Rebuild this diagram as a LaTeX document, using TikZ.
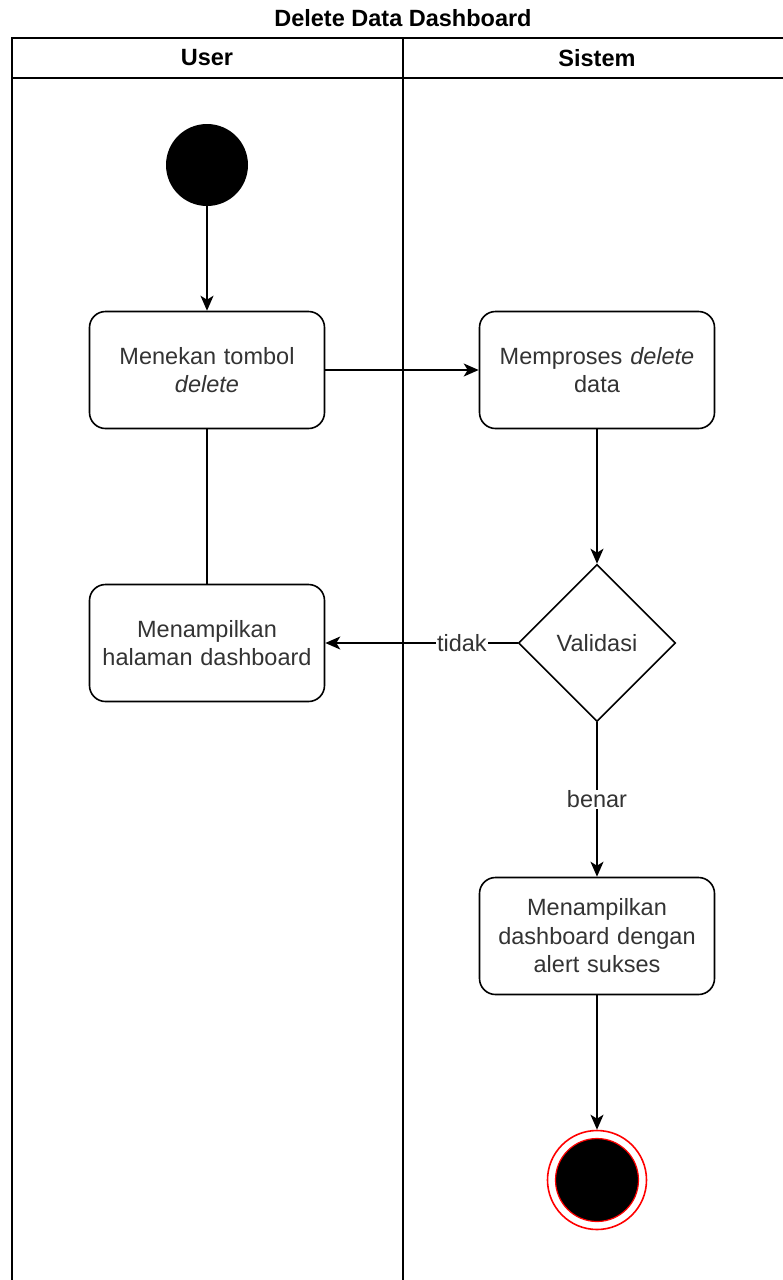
\documentclass[tikz,border=0pt]{standalone}
\usepackage{fontspec}
\setmainfont{Liberation Sans}
\usetikzlibrary{shapes.geometric,arrows.meta}
\definecolor{txt}{HTML}{333333}
\definecolor{endred}{HTML}{FF0000}
\begin{document}
\begin{tikzpicture}[x=1pt,y=-1pt,
  every node/.style={font=\fontsize{23.5}{28.5}\selectfont},
  pool/.style={line width=1.8pt, draw=black},
  act/.style={draw, line width=1.6pt, rounded corners=16pt, minimum width=235pt, minimum height=117pt, align=center, text=txt, inner sep=0pt, text width=225pt},
  dec/.style={draw, diamond, line width=1.6pt, minimum width=157pt, minimum height=157pt, inner sep=0pt, text=txt},
  startst/.style={circle, fill=black, minimum size=82pt, inner sep=0pt},
  conn/.style={line width=1.6pt},
  arr/.style={conn, -{Stealth[length=15pt,width=13pt,inset=4pt]}},
  lbl/.style={fill=white, inner sep=1pt, text=txt},
  hdr/.style={font=\fontsize{23.5}{28}\selectfont\bfseries, text=black}
]
\useasboundingbox (0,0) rectangle (783,1280);
\fill[white] (0,0) rectangle (783,1280);
% pool
\draw[pool] (12,1300) -- (12,38) -- (800,38);
\draw[pool] (12,78) -- (800,78);
\draw[pool] (403,38) -- (403,1300);
\node[hdr] (title) at (403,18) {Delete Data Dashboard};
\node[hdr] (huser) at (207,58) {User};
\node[hdr] (hsis) at (597,58) {Sistem};
% nodes
\node[startst] (start) at (207,165) {};
\node[act] (a1) at (207,370) {Menekan tombol\\\textit{delete}};
\node[act] (a2) at (597,370) {Memproses \textit{delete}\\data};
\node[dec] (val) at (597,643) {Validasi};
\node[act] (a3) at (207,643) {Menampilkan\\halaman dashboard};
\node[act] (a4) at (597,936) {Menampilkan\\dashboard dengan\\alert sukses};
\node[circle, draw=endred, line width=1.6pt, fill=white, minimum size=99pt, inner sep=0pt] (endo) at (597,1180) {};
\node[circle, draw=endred, line width=1.2pt, fill=black, minimum size=83pt, inner sep=0pt] (endi) at (597,1180) {};
% edges
\draw[arr] (start) -- (a1);
\draw[arr] (a1) -- (a2);
\draw[conn] (a1) -- (a3);
\draw[arr] (a2) -- (val);
\draw[arr] (val) -- node[lbl, pos=0.29] {tidak} (a3);
\draw[arr] (val) -- node[lbl, pos=0.5] {benar} (a4);
\draw[arr] (a4) -- (endo);
\end{tikzpicture}
\end{document}
